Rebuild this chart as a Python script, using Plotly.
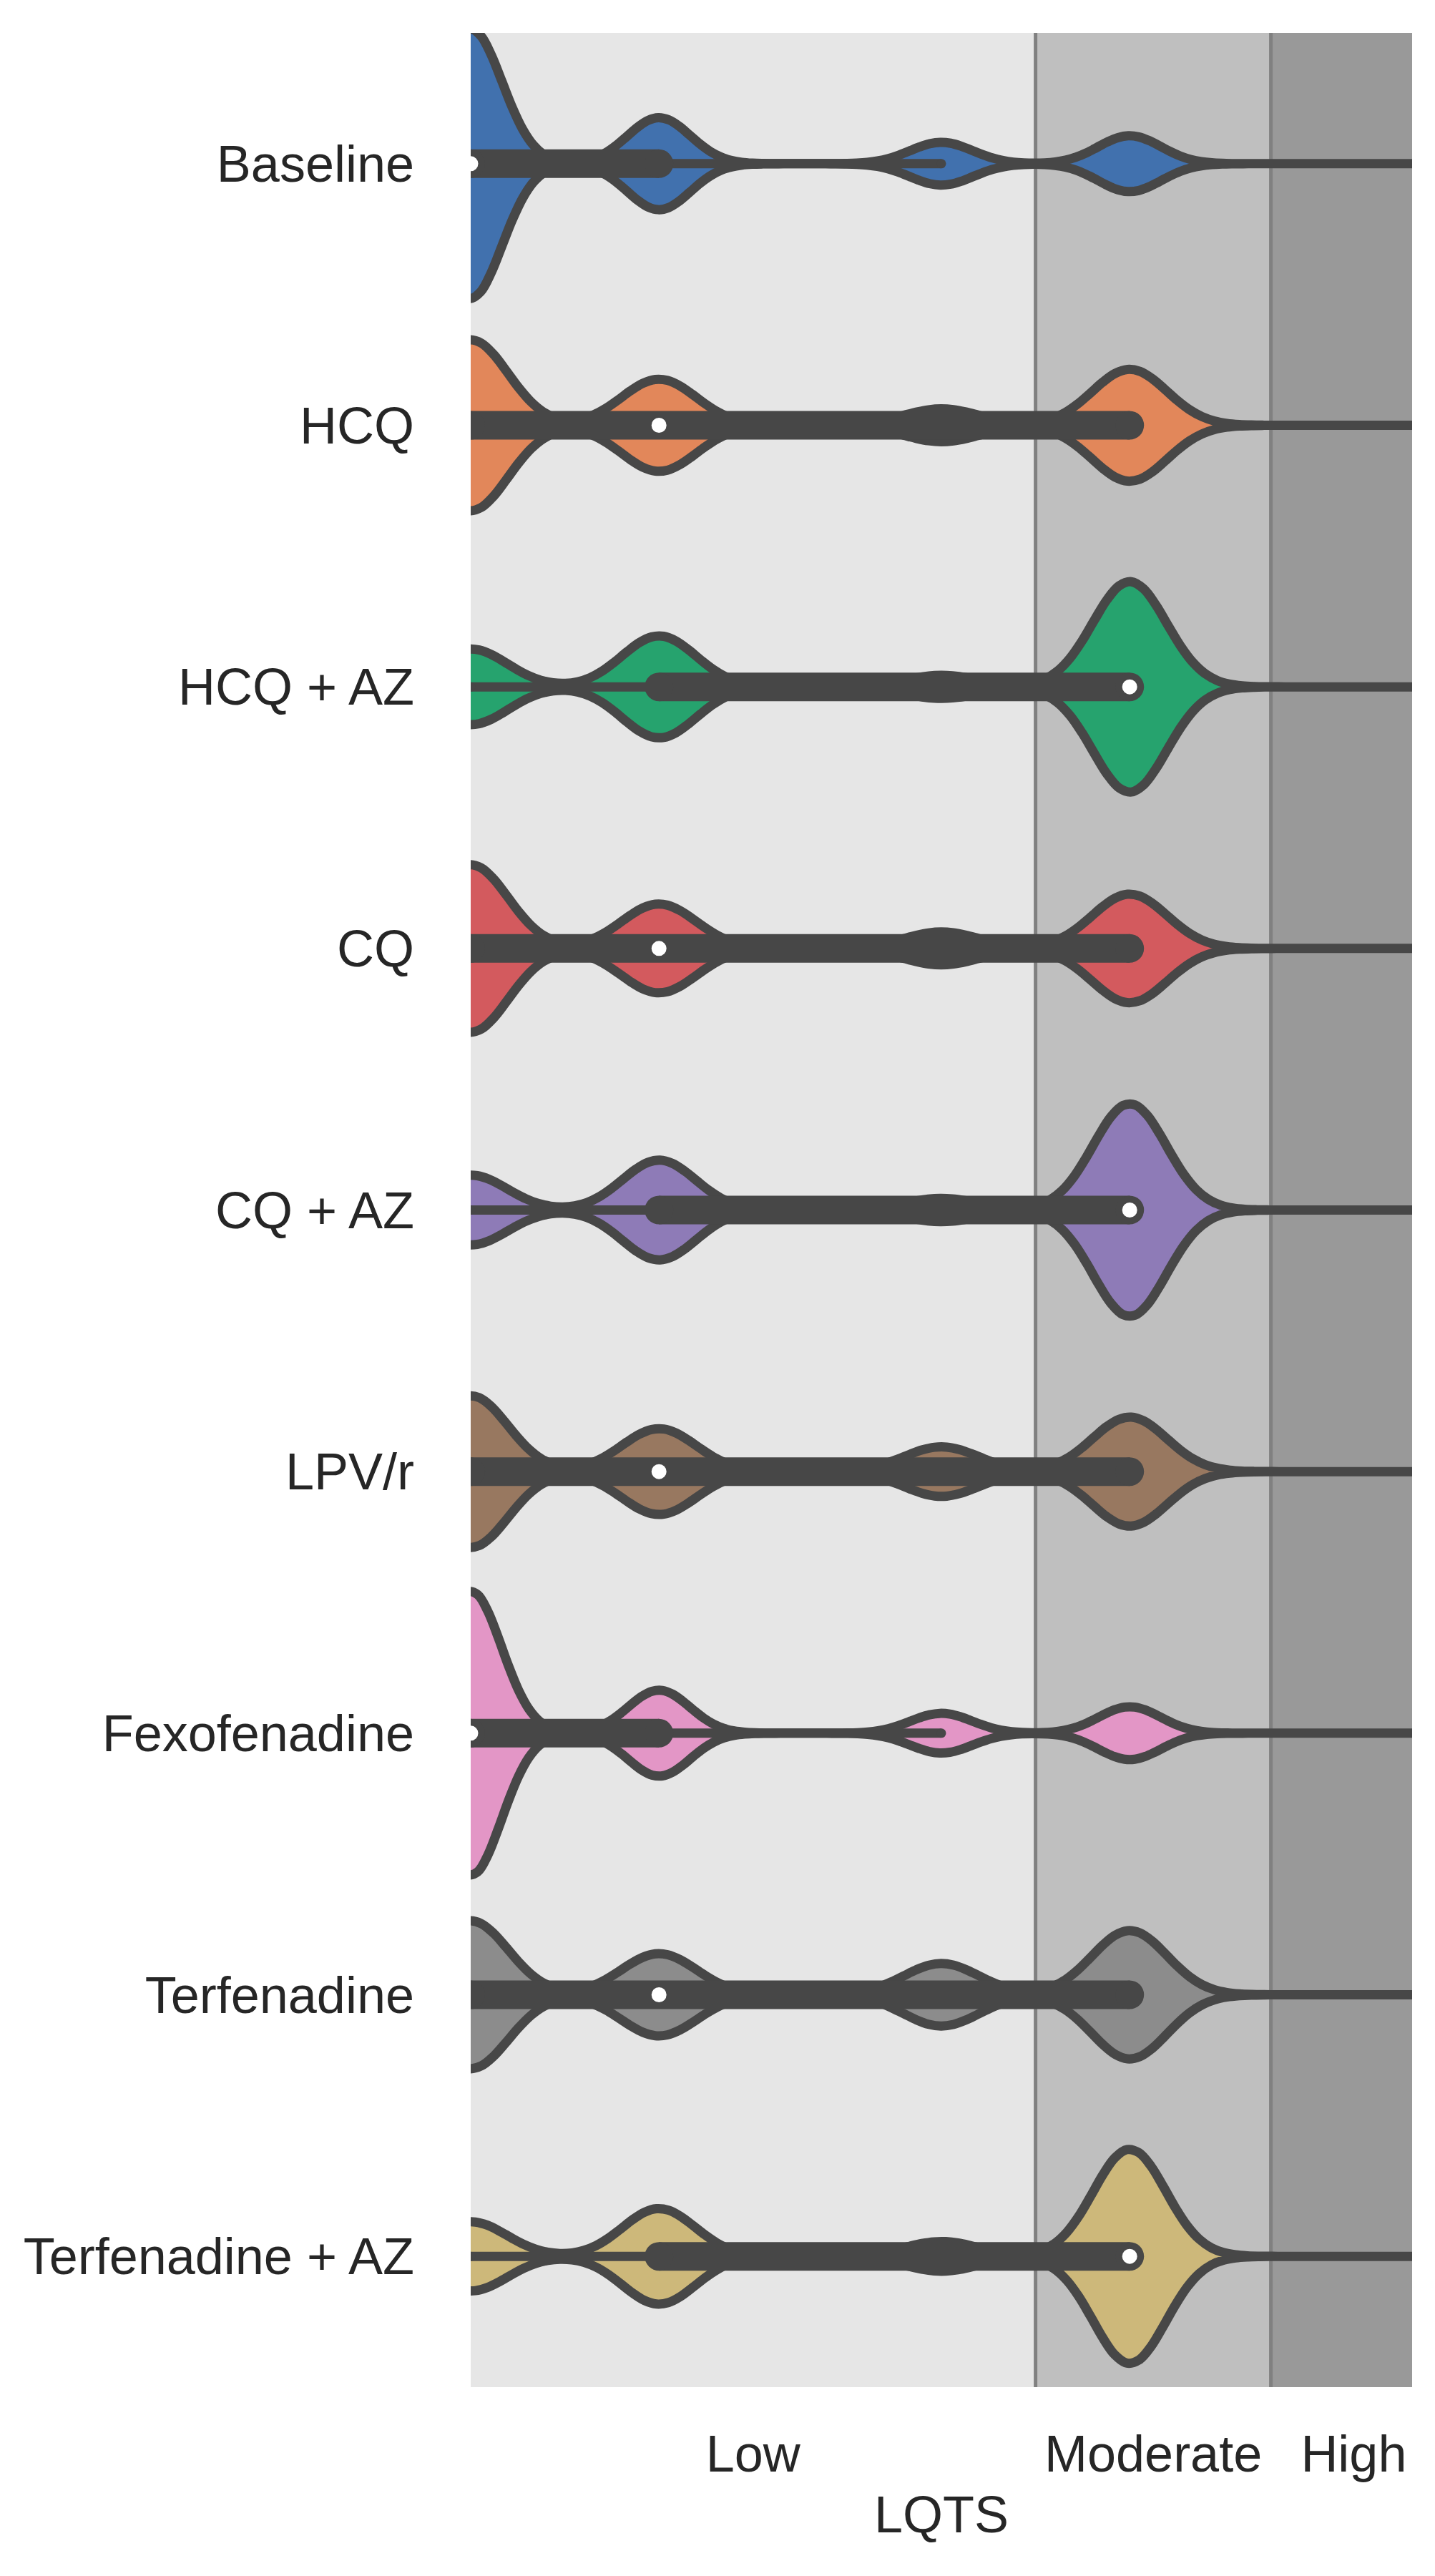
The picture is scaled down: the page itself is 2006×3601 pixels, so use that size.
import numpy as np
import plotly.graph_objects as go

# ---------------- data ----------------
drugs = ["Baseline", "HCQ", "HCQ + AZ", "CQ", "CQ + AZ", "LPV/r",
         "Fexofenadine", "Terfenadine", "Terfenadine + AZ"]

# LQTS risk score levels present in the data
score_levels = [0, 1, 2.5, 3.5]

# number of cases at each score level, per drug
counts_baseline = [82, 28, 13, 17]
counts_hcq = [52, 28, 10, 34]
counts_hcq_az = [23, 31, 7, 64]
counts_cq = [51, 27, 10, 33]
counts_cq_az = [21, 30, 7, 64]
counts_lpvr = [46, 26, 15, 33]
counts_fexofenadine = [86, 26, 12, 16]
counts_terfenadine = [45, 25, 19, 39]
counts_terfenadine_az = [21, 29, 9, 65]

all_counts = [counts_baseline, counts_hcq, counts_hcq_az, counts_cq, counts_cq_az,
              counts_lpvr, counts_fexofenadine, counts_terfenadine, counts_terfenadine_az]

colors = ["#4171AE", "#E2875A", "#26A36E", "#D35A5E", "#8E7BB7",
          "#987860", "#E396C6", "#8C8C8C", "#CDB87A"]

# risk bands along the x axis
band_edges = [0, 3, 4.25, 5]
band_labels = ["Low", "Moderate", "High"]
band_label_pos = [1.5, 3.625, 4.69]
band_colors = ["#E6E6E6", "#BFBFBF", "#999999"]

# ---------------- styling ----------------
GRAY = "#474747"
LW = 13            # outline / whisker width (px)
BOX_W = 40         # quartile bar width (px)
HALF_PER_CASE = 0.00628   # violin half-width (category units) per case
BW_FACTOR = 0.135
FONT = dict(family="Liberation Sans, Arial, sans-serif", size=72, color="#262626")

fig = go.Figure()

for name, cnt, col in zip(drugs, all_counts, colors):
    samples = np.repeat(np.array(score_levels, dtype=float), cnt)
    bw = BW_FACTOR * np.std(samples)
    fig.add_trace(go.Violin(
        x=samples, y=[name] * len(samples), orientation="h", name=name,
        width=2 * HALF_PER_CASE * max(cnt), bandwidth=bw,
        spanmode="manual", span=[-1, 5.6],
        points=False, box_visible=False, meanline_visible=False,
        fillcolor=col, line=dict(color=GRAY, width=LW),
        scalemode="width", showlegend=False, hoverinfo="skip",
    ))

for name, cnt in zip(drugs, all_counts):
    samples = np.repeat(np.array(score_levels, dtype=float), cnt)
    q1, q2, q3 = np.percentile(samples, [25, 50, 75])
    iqr = q3 - q1
    lo = samples[samples >= q1 - 1.5 * iqr].min()
    hi = samples[samples <= q3 + 1.5 * iqr].max()
    # whisker
    fig.add_trace(go.Scatter(
        x=[lo, hi], y=[name, name], mode="lines+markers",
        line=dict(color=GRAY, width=LW), marker=dict(color=GRAY, size=LW),
        showlegend=False, hoverinfo="skip"))
    # quartile bar
    fig.add_trace(go.Scatter(
        x=[q1, q3], y=[name, name], mode="lines+markers",
        line=dict(color=GRAY, width=BOX_W), marker=dict(color=GRAY, size=BOX_W),
        showlegend=False, hoverinfo="skip"))
    # median
    fig.add_trace(go.Scatter(
        x=[q2], y=[name], mode="markers",
        marker=dict(color="white", size=23, line=dict(color=GRAY, width=2)),
        showlegend=False, hoverinfo="skip"))

# background risk bands and separators
for i in range(len(band_labels)):
    fig.add_shape(type="rect", xref="x", yref="paper",
                  x0=band_edges[i], x1=band_edges[i + 1], y0=0, y1=1,
                  fillcolor=band_colors[i], line_width=0, layer="below")
for e in band_edges[1:-1]:
    fig.add_shape(type="line", xref="x", yref="paper", x0=e, x1=e, y0=0, y1=1,
                  line=dict(color="#808080", width=5), layer="below")

fig.update_layout(
    width=2006, height=3601,
    margin=dict(l=650, r=40, t=38, b=272, autoexpand=False),
    paper_bgcolor="white", plot_bgcolor="white",
    violinmode="overlay", violingap=0, violingroupgap=0,
    font=FONT,
)
fig.update_xaxes(
    range=[band_edges[0], band_edges[-1]], tickvals=band_label_pos, ticktext=band_labels,
    showgrid=False, zeroline=False, showline=False, ticks="", automargin=False,
    ticklabelstandoff=45, tickfont=FONT,
    title=dict(text="LQTS", font=FONT, standoff=20),
)
fig.update_yaxes(
    type="category", categoryorder="array", categoryarray=drugs,
    range=[len(drugs) - 0.5, -0.5], automargin=False,
    showgrid=False, zeroline=False, showline=False, ticks="",
    ticklabelstandoff=78, tickfont=FONT,
)

fig.write_html("out.html")
